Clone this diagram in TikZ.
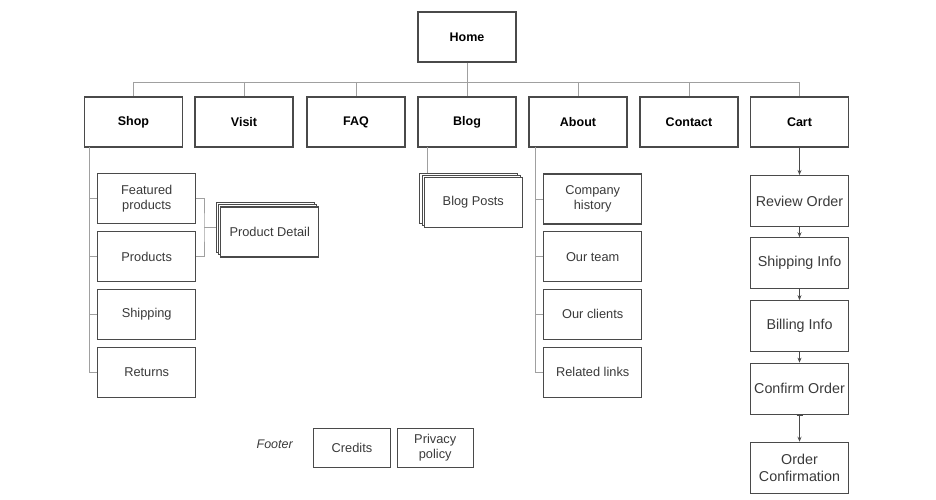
\documentclass[tikz,border=0pt]{standalone}
\usepackage{fontspec}
\setmainfont{Liberation Sans}
\usetikzlibrary{arrows.meta,shadows}

\definecolor{boxline}{HTML}{4A4A4A}
\definecolor{linkline}{HTML}{A0A0A0}
\definecolor{labeltext}{HTML}{3A3A3A}

\tikzset{
  box/.style={shape=rectangle,draw=boxline,line width=1.1pt,fill=white,
    minimum width=98pt,minimum height=50pt,inner sep=0pt,align=center,
    text=labeltext,font=\fontsize{12.8}{15}\selectfont},
  topbox/.style={box,text=black,font=\fontsize{12.5}{15}\selectfont\bfseries},
  cartbox/.style={box,minimum height=51pt,font=\fontsize{14.3}{17.3}\selectfont},
  footbox/.style={box,minimum height=39pt},
  stack/.style={box,
    copy shadow={shadow xshift=-4.4pt,shadow yshift=4.4pt,draw=boxline,fill=white,line width=1.1pt},
    copy shadow={shadow xshift=-2.2pt,shadow yshift=2.2pt,draw=boxline,fill=white,line width=1.1pt}},
  link/.style={draw=linkline,line width=0.9pt},
  flow/.style={draw=boxline,line width=1pt,-{Stealth[length=5pt,width=4pt]}},
}

\begin{document}
\begin{tikzpicture}[x=1pt,y=-1pt]
\useasboundingbox (0,0) rectangle (936,500);

\node[topbox] (home) at (467,37) {Home};
\node[topbox] (shop) at (133.5,122) {Shop};
\node[topbox] (visit) at (244,122) {Visit};
\node[topbox] (faq) at (356,122) {FAQ};
\node[topbox] (blog) at (467,122) {Blog};
\node[topbox] (about) at (578,122) {About};
\node[topbox] (contact) at (689,122) {Contact};
\node[topbox] (cart) at (799.5,122) {Cart};

\node[box] (featured) at (146.7,198.7) {Featured\\products};
\node[box] (products) at (146.7,256.5) {Products};
\node[box] (shipping) at (146.7,314.3) {Shipping};
\node[box] (returns) at (146.7,372.3) {Returns};
\node[stack] (detail) at (269.7,232) {Product Detail};

\node[stack] (posts) at (473.3,202.5) {Blog Posts};

\node[box] (history) at (592.7,199) {Company\\history};
\node[box] (team) at (592.7,256.7) {Our team};
\node[box] (clients) at (592.7,314.3) {Our clients};
\node[box] (links) at (592.7,372.3) {Related links};

\node[cartbox] (review) at (799.5,201) {Review Order};
\node[cartbox] (shipinfo) at (799.5,263.3) {Shipping Info};
\node[cartbox] (billing) at (799.5,326.2) {Billing Info};
\node[cartbox] (confirm) at (799.5,388.7) {Confirm Order};
\node[cartbox] (confirmation) at (799.5,467.8) {Order\\Confirmation};

\node[font=\fontsize{12.5}{15}\selectfont\itshape,text=labeltext] (footer) at (274.7,444.3) {Footer};
\node[footbox,minimum width=77pt] (credits) at (352,447.8) {Credits};
\node[footbox,minimum width=76pt] (privacy) at (435.2,447.8) {Privacy\\policy};

\coordinate (bus) at (467,82);
\coordinate (shoptrunk) at (89.3,147);
\coordinate (blogtrunk) at (427.7,147);
\coordinate (abouttrunk) at (535,147);
\coordinate (detailback) at ([xshift=-4.4pt,yshift=4.4pt]detail.west);
\coordinate (pdjoin) at (204,0 |- detailback);
\coordinate (poststop) at ([yshift=4.4pt]posts.north);

\path[link] (home) -- (home |- bus);
\path[link] (shop.north |- bus) -- (cart.north |- bus);
\path[link] (shop.north |- bus) -- (shop.north);
\path[link] (visit.north |- bus) -- (visit.north);
\path[link] (faq.north |- bus) -- (faq.north);
\path[link] (blog.north |- bus) -- (blog.north);
\path[link] (about.north |- bus) -- (about.north);
\path[link] (contact.north |- bus) -- (contact.north);
\path[link] (cart.north |- bus) -- (cart.north);

\path[link] (shoptrunk) |- (returns.west);
\path[link] (shoptrunk |- featured.west) -- (featured.west);
\path[link] (shoptrunk |- products.west) -- (products.west);
\path[link] (shoptrunk |- shipping.west) -- (shipping.west);
\path[link] (featured.east) -| (pdjoin) |- (products.east);
\path[link] (pdjoin) -- (detailback);

\path[link] (blogtrunk) -- (blogtrunk |- poststop);

\path[link] (abouttrunk) |- (links.west);
\path[link] (abouttrunk |- history.west) -- (history.west);
\path[link] (abouttrunk |- team.west) -- (team.west);
\path[link] (abouttrunk |- clients.west) -- (clients.west);

\path[flow] (cart) -- (review);
\path[flow] (review) -- (shipinfo);
\path[flow] (shipinfo) -- (billing);
\path[flow] (billing) -- (confirm);
\path[flow,{Bar[width=6pt]}-{Stealth[length=5pt,width=4pt]}] (confirm) -- (confirmation);
\end{tikzpicture}
\end{document}
